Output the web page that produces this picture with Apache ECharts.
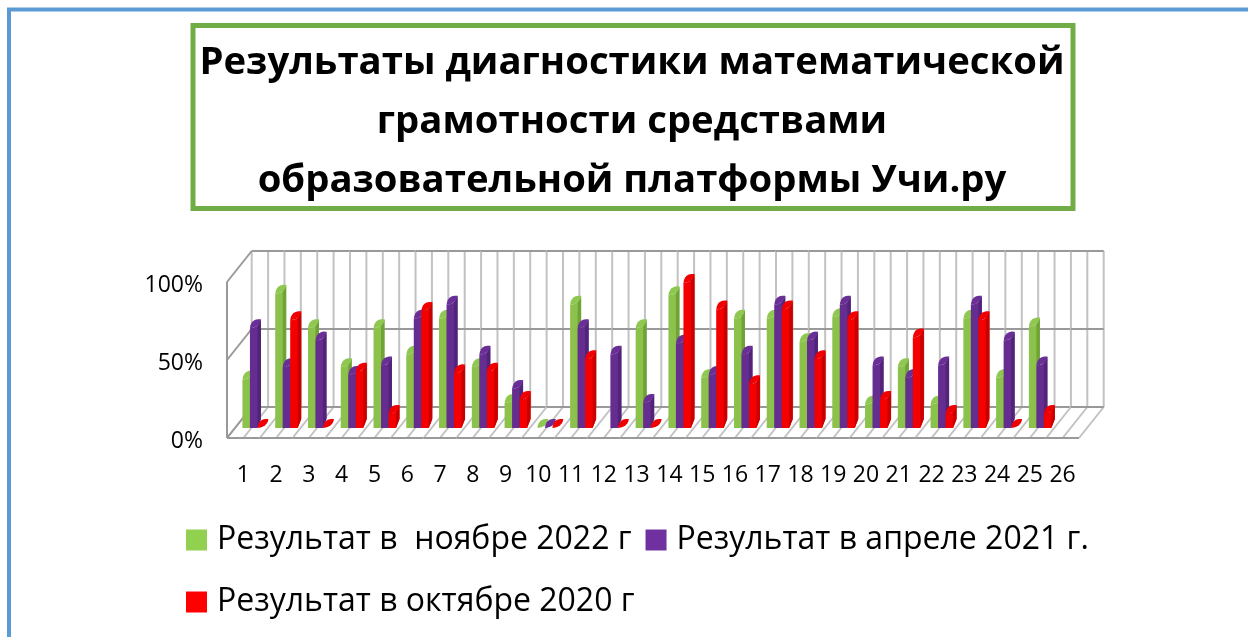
<!DOCTYPE html>
<html>
<head>
<meta charset="utf-8">
<style>
  html, body { margin: 0; padding: 0; background: #fff; }
  #chart { width: 1248px; height: 637px; }
</style>
<script src="https://cdn.jsdelivr.net/npm/echarts@6/dist/echarts.min.js"></script>
</head>
<body>
<div id="chart"></div>
<script>
var categories = ['1','2','3','4','5','6','7','8','9','10','11','12','13','14','15','16','17','18','19','20','21','22','23','24','25','26'];
var nov2022 = [31,86,64,39,64,47,70,39,16,0,79,null,64,85,32,70,70,55,71,15,39,15,70,32,65,null];
var apr2021 = [64,39,56,34,40,70,79,47,25,0,64,47,16,54,34,47,79,56,79,40,32,40,79,56,40,null];
var oct2020 = [0,69,0,36,9,75,35,36,18,0,44,0,0,93,76,28,76,44,69,18,58,9,69,0,9,null];
var yTicks = [0, 50, 100];
var seriesNames = ['Результат в  ноябре 2022 г', 'Результат в апреле 2021 г.', 'Результат в октябре 2020 г'];
var titleText = 'Результаты диагностики математической\nграмотности средствами\nобразовательной платформы Учи.ру';

var fontName = '"Open Sans"';
// сдвиг задней стенки и основания столбиков относительно переднего края
var wallDx = 24.7, wallDy = -31;
var floorDx = 10.3, floorDy = -10;
var barW = 7.5, depthX = 3.5, depthY = 9;

function seg(x1, y1, x2, y2, color) {
  return {
    type: 'line',
    shape: { x1: x1, y1: y1, x2: x2, y2: y2 },
    style: { stroke: color, lineWidth: 2 }
  };
}

// стенки и пол рисуем по ячейкам категорий, линии идут через полкатегории
function renderFrame(params, api) {
  var i = api.value(0);
  var w = api.size([1, 0])[0];
  var x0 = api.coord([i, 0])[0] - w / 2;
  var x1 = x0 + w;
  var yBot = api.coord([i, 0])[1];
  var yTop = api.coord([i, 100])[1];
  var light = '#c2c2c2', dark = '#999999';
  var kids = [];
  [x0, x0 + w / 2].concat(i === categories.length - 1 ? [x1] : []).forEach(function (x) {
    kids.push(seg(x + wallDx, yTop + wallDy, x + wallDx, yBot + wallDy, light));
    kids.push(seg(x, yBot, x + wallDx, yBot + wallDy, light));
  });
  yTicks.forEach(function (t) {
    var y = api.coord([i, t])[1];
    kids.push(seg(x0 + wallDx, y + wallDy, x1 + wallDx, y + wallDy, dark));
    if (i === 0) kids.push(seg(x0, y, x0 + wallDx, y + wallDy, dark));
  });
  kids.push(seg(x0, yBot, x1, yBot, dark));
  if (i === 0) kids.push(seg(x0, yTop, x0, yBot, dark));
  return { type: 'group', children: kids };
}

function quad(a, c, b) {
  var pts = [];
  for (var k = 0; k <= 6; k++) {
    var t = k / 6, s = 1 - t;
    pts.push([s * s * a[0] + 2 * s * t * c[0] + t * t * b[0], s * s * a[1] + 2 * s * t * c[1] + t * t * b[1]]);
  }
  return pts;
}

function makeBar(seriesIndex, front, side, top) {
  return function (params, api) {
    var v = api.value(1);
    if (v == null || isNaN(v)) return;
    var c = api.coord([api.value(0), v]);
    var base = api.coord([api.value(0), 0]);
    var xl = c[0] + floorDx - barW * 1.5 + barW * seriesIndex;
    var xr = xl + barW;
    var yt = c[1] + floorDy;
    var yb = base[1] + floorDy;
    var tipA = [xl, yt], tipB = [xr + depthX, yt - depthY];
    var lower = quad(tipB, [xr + depthX - 1, yt - 1], tipA);
    var upper = quad(tipA, [xl + 1, yt - depthY - 1], tipB);
    var kids = [];
    if (v > 0) {
      kids.push({
        type: 'polygon',
        shape: { points: [[xl, yb], [xr, yb], [xr + depthX, yb - depthY]].concat(lower) },
        style: { fill: front }
      });
      kids.push({
        type: 'polygon',
        shape: { points: [[xr, yb], [xr + depthX, yb - depthY], [xr + depthX, yt - depthY], [xr, yt - 2]] },
        style: { fill: side }
      });
    }
    kids.push({
      type: 'polygon',
      shape: { points: lower.concat(upper) },
      style: { fill: top }
    });
    return { type: 'group', children: kids };
  };
}

function barData(arr) {
  return arr.map(function (v, i) { return [i, v]; });
}

var chart = echarts.init(document.getElementById('chart'));
chart.setOption({
  animation: false,
  backgroundColor: '#fff',
  title: {
    text: titleText,
    left: 627,
    top: 29,
    textAlign: 'center',
    textStyle: { fontFamily: fontName, fontWeight: 'bold', fontSize: 38.3, lineHeight: 59, color: '#000' }
  },
  graphic: [
    { type: 'rect', shape: { x: 9, y: 9.5, width: 1400, height: 800 }, style: { fill: 'none', stroke: '#5b9bd5', lineWidth: 4 } },
    { type: 'rect', shape: { x: 193, y: 25.5, width: 880, height: 183 }, style: { fill: 'none', stroke: '#70ad47', lineWidth: 5 } }
  ],
  grid: { left: 227, right: 169, top: 282, bottom: 199 },
  legend: {
    left: 186,
    top: 516,
    padding: 0,
    width: 960,
    itemWidth: 21,
    itemHeight: 21,
    itemGap: 14,
    icon: 'rect',
    data: seriesNames,
    textStyle: { fontFamily: fontName, fontSize: 32, color: '#000', height: 48, lineHeight: 48, padding: [0, 0, 0, 5] }
  },
  xAxis: {
    type: 'category',
    data: categories,
    axisLine: { show: false },
    axisTick: { show: false },
    axisLabel: { interval: 0, margin: 26, fontFamily: fontName, fontSize: 23, color: '#000' }
  },
  yAxis: {
    type: 'value',
    min: 0,
    max: 100,
    interval: 50,
    axisLine: { show: false },
    axisTick: { show: false },
    splitLine: { show: false },
    axisLabel: { margin: 24, verticalAlign: 'top', lineHeight: 6, formatter: '{value}%', fontFamily: fontName, fontSize: 23, color: '#000' }
  },
  series: [
    { type: 'custom', silent: true, renderItem: renderFrame, data: barData(categories.map(function () { return 0; })) },
    { type: 'custom', name: seriesNames[0], itemStyle: { color: '#92d050' }, renderItem: makeBar(0, '#8cc24c', '#6fa338', '#8fc850'), data: barData(nov2022) },
    { type: 'custom', name: seriesNames[1], itemStyle: { color: '#7030a0' }, renderItem: makeBar(1, '#662d91', '#51247a', '#6a2f96'), data: barData(apr2021) },
    { type: 'custom', name: seriesNames[2], itemStyle: { color: '#ff0000' }, renderItem: makeBar(2, '#f50000', '#c80000', '#f00000'), data: barData(oct2020) }
  ]
});
</script>
</body>
</html>
